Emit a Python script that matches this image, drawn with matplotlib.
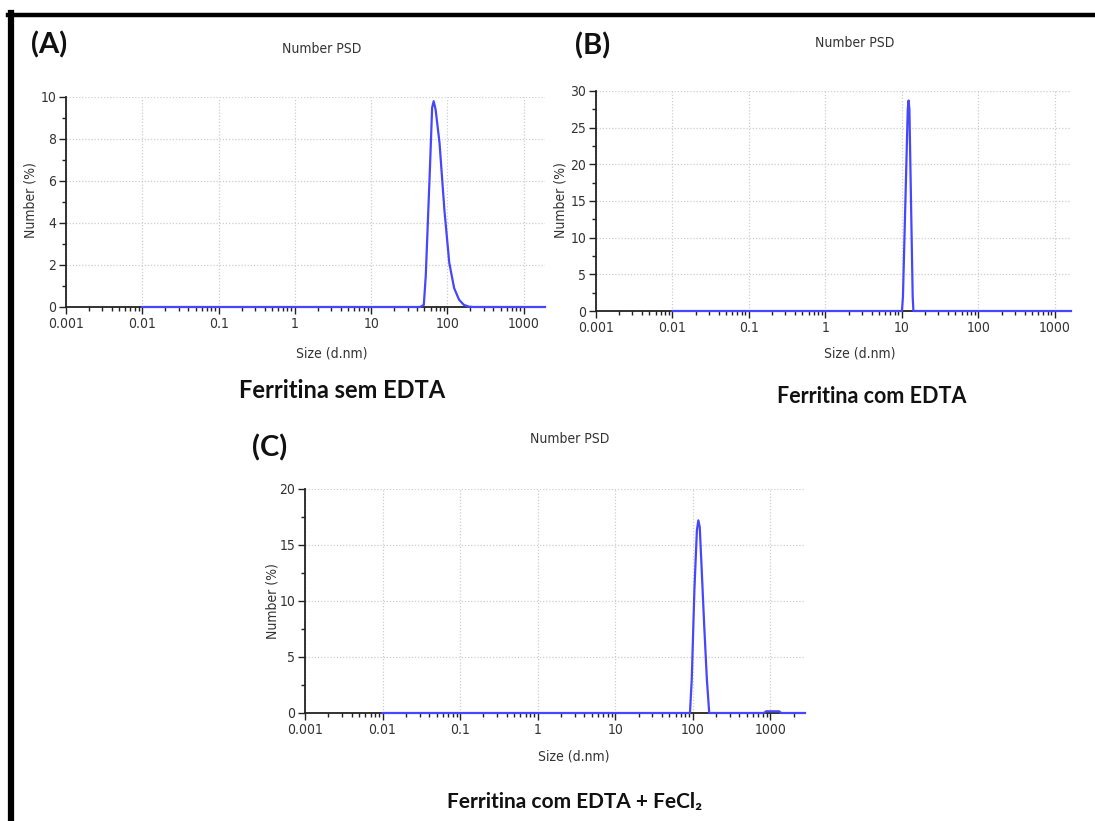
import matplotlib
matplotlib.use("Agg")
import matplotlib.pyplot as plt
from matplotlib.ticker import LogLocator, MultipleLocator, FixedLocator, FixedFormatter

# ---------------- data ----------------
size_a = [0.01, 43.8, 49.0, 52.0, 58.8, 63.0, 66.0, 70.0, 78.8, 91.3, 105.7, 122.4, 141.8, 164.2, 190.1, 220.2, 1900]
num_a = [0, 0, 0.1, 1.5, 6.5, 9.5, 9.8, 9.4, 7.8, 4.6, 2.1, 0.9, 0.35, 0.1, 0.02, 0, 0]

size_b = [0.01, 10.0, 10.3, 11.9, 12.2, 12.5, 13.8, 14.1, 1620]
num_b = [0, 0, 2.0, 27.5, 28.7, 27.5, 2.0, 0, 0]

size_c = [0.01, 92, 97, 105, 113, 118, 123, 130, 140, 152, 163, 830, 880, 1300, 1380, 2800]
num_c = [0, 0, 3, 11, 16.3, 17.2, 16.6, 13, 8, 3, 0, 0, 0.15, 0.15, 0, 0]

xticks = [0.001, 0.01, 0.1, 1, 10, 100, 1000]
xtick_labels = ["0.001", "0.01", "0.1", "1", "10", "100", "1000"]

captions = ["Ferritina sem EDTA", "Ferritina com EDTA", "Ferritina com EDTA + FeCl\u2082"]
panel_tags = ["(A)", "(B)", "(C)"]

# ---------------- settings ----------------
W, H = 1095, 821
narrow = ["Liberation Sans Narrow", "DejaVu Sans"]
bold_font = ["Lato", "DejaVu Sans"]
line_col = "#4646ff"
txt_col = "#333333"

fig = plt.figure(figsize=(W / 100, H / 100), dpi=100)


def px_axes(left, right, top, bottom):
    return fig.add_axes([left / W, 1 - bottom / H, (right - left) / W, (bottom - top) / H])


def style_panel(ax, x, y, xmax, ymax, ymajor):
    ax.plot(x, y, color=line_col, lw=1.6, zorder=3, clip_on=False)
    ax.set_xscale("log")
    ax.set_xlim(0.001, xmax)
    ax.set_ylim(0, ymax)
    ax.xaxis.set_major_locator(FixedLocator(xticks))
    ax.xaxis.set_major_formatter(FixedFormatter(xtick_labels))
    ax.xaxis.set_minor_locator(LogLocator(base=10, subs=range(2, 10), numticks=20))
    ax.yaxis.set_major_locator(MultipleLocator(ymajor))
    ax.yaxis.set_minor_locator(MultipleLocator(ymajor / 2))
    ax.grid(True, which="major", color="#cfcfcf", linestyle=(0, (1, 1.5)), linewidth=0.9)
    ax.set_axisbelow(True)
    for s in ["top", "right"]:
        ax.spines[s].set_visible(False)
    for s in ["left", "bottom"]:
        ax.spines[s].set_color("#222222")
        ax.spines[s].set_linewidth(1.3)
    ax.tick_params(which="major", length=5, width=1.0, color="#222222", labelsize=10,
                   labelcolor=txt_col, pad=2)
    ax.tick_params(which="minor", length=3, width=1.0, color="#222222")
    for lab in ax.get_xticklabels() + ax.get_yticklabels():
        lab.set_family(narrow)
        lab.set_stretch("condensed")
    ax.set_facecolor("white")


# panel A
ax_a = px_axes(66, 545, 97, 307)
style_panel(ax_a, size_a, num_a, 1900, 10, 2)
# panel B
ax_b = px_axes(596, 1071, 91, 311)
style_panel(ax_b, size_b, num_b, 1620, 30, 5)
# panel C
ax_c = px_axes(305, 805, 489, 713)
style_panel(ax_c, size_c, num_c, 2800, 20, 5)


def ftext(x, y, s, **kw):
    fig.text(x / W, 1 - y / H, s, **kw)


# titles
for x, y in [(322, 49), (855, 43), (570, 439)]:
    ftext(x, y, "Number PSD", ha="center", va="center", fontsize=10, family=narrow,
          stretch="condensed", color=txt_col)

# axis labels
for x, y in [(31, 200), (561, 200), (272, 601)]:
    ftext(x, y, "Number (%)", ha="center", va="center", rotation=90, fontsize=10,
          family=narrow, stretch="condensed", color=txt_col)
for x, y in [(332, 353), (860, 353), (574, 756)]:
    ftext(x, y, "Size (d.nm)", ha="center", va="center", fontsize=10, family=narrow,
          stretch="condensed", color=txt_col)

# panel tags
for (x, y), t in zip([(49, 45), (593, 46), (270, 448)], panel_tags):
    ftext(x, y, t, ha="center", va="center", fontsize=21, fontweight="bold",
          family=bold_font, color="#111111")

# captions
for (x, y), t, fs in zip([(342, 390), (872, 396), (575, 802)], captions, [17, 15.5, 15]):
    ftext(x, y, t, ha="center", va="center", fontsize=fs, fontweight="bold",
          family=bold_font, color="#111111")

# black frame (left and top only)
fig.add_artist(plt.Line2D([11 / W, 11 / W], [0, 1 - 13 / H], color="black", lw=4.5,
                          transform=fig.transFigure))
fig.add_artist(plt.Line2D([8 / W, 1], [1 - 15 / H, 1 - 15 / H], color="black", lw=3.2,
                          transform=fig.transFigure))

fig.savefig("out.png", dpi=100, facecolor="white")
